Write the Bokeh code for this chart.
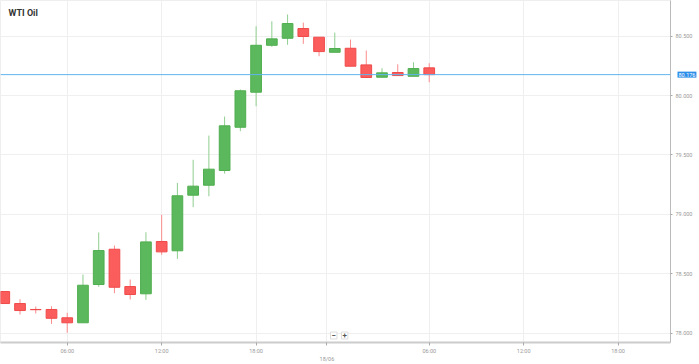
from bokeh.plotting import figure
from bokeh.models import Range1d, FixedTicker, PrintfTickFormatter, Span, Label, ColumnDataSource
from bokeh.embed import file_html
from bokeh.resources import INLINE

# hourly candle slots (index axis; one hour missing around the daily break)
slots = list(range(-4, 24))
open_ = [78.350, 78.249, 78.199, 78.199, 78.129, 78.087, 78.409, 78.706, 78.392, 78.331,
         78.771, 78.693, 79.161, 79.245, 79.369, 79.733, 80.028, 80.423, 80.482, 80.564,
         80.491, 80.364, 80.398, 80.258, 80.154, 80.194, 80.162, 80.233]
close = [78.249, 78.190, 78.197, 78.125, 78.087, 78.403, 78.695, 78.386, 78.325, 78.768,
         78.684, 79.156, 79.237, 79.380, 79.745, 80.040, 80.423, 80.477, 80.606, 80.497,
         80.370, 80.396, 80.247, 80.152, 80.191, 80.168, 80.227, 80.176]
high = [78.350, 78.285, 78.224, 78.226, 78.171, 78.493, 78.847, 78.737, 78.451, 78.849,
        78.996, 79.265, 79.459, 79.663, 79.823, 80.051, 80.583, 80.625, 80.682, 80.614,
        80.491, 80.530, 80.471, 80.379, 80.230, 80.263, 80.280, 80.272]
low = [78.249, 78.157, 78.165, 78.078, 78.003, 78.087, 78.390, 78.336, 78.283, 78.280,
       78.659, 78.625, 79.060, 79.152, 79.343, 79.700, 79.910, 80.410, 80.427, 80.435,
       80.331, 80.364, 80.247, 80.152, 80.154, 80.164, 80.162, 80.112]

tick_slots = [0, 6, 12, 16.5, 23, 29, 35]
tick_labels = ["06:00", "12:00", "18:00", "", "06:00", "12:00", "18:00"]
date_slot = 16.5
date_label = "18/06"
y_ticks = [78.0, 78.5, 79.0, 79.5, 80.0, 80.5]
current_price = 80.176
title = "WTI Oil"

GREEN = "#5cb85c"
GREEN_LINE = "#4fae4f"
RED = "#fb5c5c"
RED_LINE = "#f04a4a"

FRAME_W = 670
FRAME_H = 342

up = [c >= o for o, c in zip(open_, close)]
src = ColumnDataSource(dict(
    x=slots, top=[max(o, c) for o, c in zip(open_, close)],
    bottom=[min(o, c) for o, c in zip(open_, close)],
    high=high, low=low,
    fill=[GREEN if u else RED for u in up],
    line=[GREEN_LINE if u else RED_LINE for u in up],
    wick=["#8fce8f" if u else "#fb8c8c" for u in up],
))

p = figure(frame_width=FRAME_W, frame_height=FRAME_H, output_backend="svg", toolbar_location=None,
           x_range=Range1d(-4.24, 38.33), y_range=Range1d(77.921, 80.800),
           y_axis_location="right", min_border_left=0, min_border_top=0,
           min_border_right=0, min_border_bottom=14)
p.background_fill_color = "white"
p.border_fill_color = "white"
p.outline_line_color = "#eeeeee"

p.segment(x0="x", x1="x", y0="low", y1="high", line_color="wick", line_width=1, source=src)
p.vbar(x="x", width=0.68, top="top", bottom="bottom", fill_color="fill",
       line_color="line", line_width=1, source=src)

p.add_layout(Span(location=current_price, dimension="width", line_color="#5fb4ef", line_width=1))

# axes
xa = p.xaxis[0]
xa.ticker = FixedTicker(ticks=tick_slots)
xa.major_label_overrides = {t: l for t, l in zip(tick_slots, tick_labels)}
xa.axis_line_color = "#cccccc"
xa.axis_line_width = 2
xa.major_tick_line_color = "#aaaaaa"
xa.major_tick_out = 3
xa.major_tick_in = 0
xa.minor_tick_line_color = None
xa.major_label_text_font = "Roboto"
xa.major_label_text_font_size = "5.5px"
xa.major_label_text_color = "#999999"
xa.major_label_standoff = 2

ya = p.yaxis[0]
ya.ticker = FixedTicker(ticks=y_ticks)
ya.formatter = PrintfTickFormatter(format="%.3f")
ya.axis_line_color = "#bbbbbb"
ya.axis_line_width = 1
ya.major_tick_line_color = "#aaaaaa"
ya.major_tick_out = 2
ya.major_tick_in = 0
ya.minor_tick_line_color = None
ya.major_label_text_font = "Roboto"
ya.major_label_text_font_size = "5.5px"
ya.major_label_text_color = "#999999"
ya.major_label_standoff = 3

p.xgrid.grid_line_color = "#efefef"
p.ygrid.grid_line_color = "#efefef"
p.xgrid.ticker = FixedTicker(ticks=tick_slots)
p.ygrid.ticker = FixedTicker(ticks=y_ticks)

# date label below the axis (in a side panel, so it is not clipped to the frame)
p.add_layout(Label(x=date_slot, y=4, y_units="screen", text=date_label,
                   text_font="Roboto", text_font_size="5.5px", text_color="#999999",
                   text_align="center", text_baseline="middle"), "below")

# current price tag
p.add_layout(Label(x=-18, x_units="screen", y=current_price,
                   text="%.3f" % current_price,
                   text_font="Roboto", text_font_size="5.5px", text_color="white",
                   text_baseline="middle", background_fill_color="#2b8ee8",
                   padding=1), "right")

# title
p.add_layout(Label(x=8, y=FRAME_H - 12, x_units="screen", y_units="screen", text=title,
                   text_font="Roboto", text_font_style="bold", text_font_size="9px",
                   text_color="#333333", text_baseline="middle"))

# zoom buttons
for xs, t in [(330, "\u2212"), (341, "+")]:
    p.add_layout(Label(x=xs, y=7, x_units="screen", y_units="screen", text=t,
                       text_font="Roboto", text_font_style="bold", text_font_size="8px",
                       text_color="#555555", text_baseline="middle",
                       background_fill_color="white", border_line_color="#dddddd",
                       padding=1))

open("out.html", "w").write(file_html(p, INLINE))
